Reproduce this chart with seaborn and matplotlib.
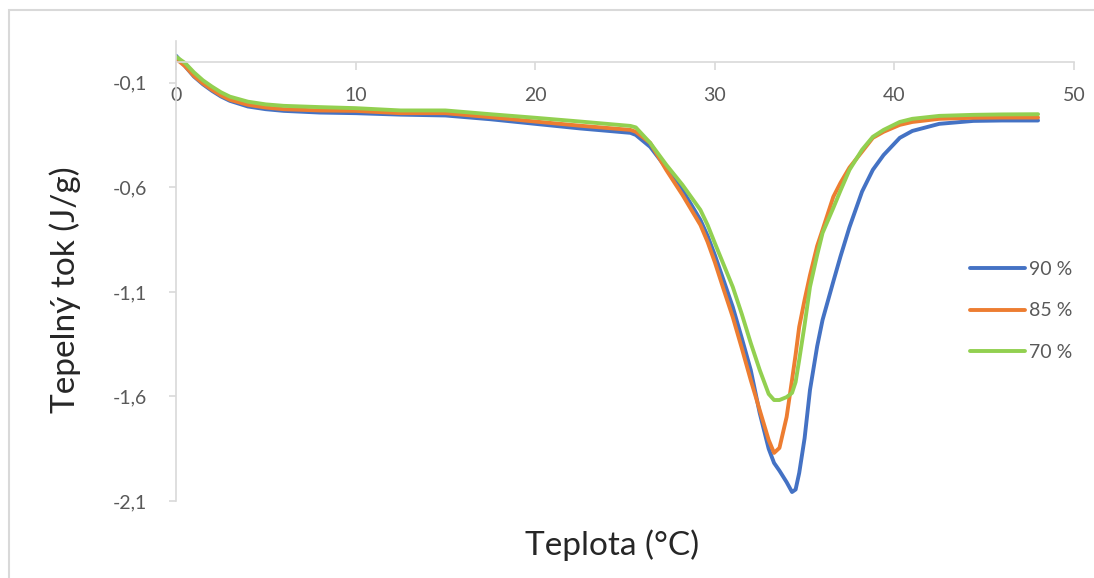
import pandas as pd
import numpy as np
import matplotlib.pyplot as plt
import seaborn as sns
from matplotlib.patches import Rectangle

# -------------------------------
# Data
# -------------------------------

temperature = [0, 0.5, 1, 1.5, 2, 2.5, 3, 4, 5, 6,
               8, 10, 12.5, 15, 17.5, 20, 22.5, 25.3, 25.6, 26.4,
               27.3, 28.2, 29.2, 29.6, 30, 30.5, 31, 31.5, 32, 32.5,
               33.0, 33.3, 33.6, 34.0, 34.3, 34.5, 34.7, 35.0, 35.3, 35.7,
               36, 36.6, 37, 37.5, 38.2, 38.8, 39.4, 40.3, 41, 42.5,
               44.4, 46, 48]

flow_90 = [0.03, -0.02, -0.07, -0.107, -0.138, -0.165, -0.186, -0.213, -0.226, -0.234,
           -0.242, -0.245, -0.252, -0.256, -0.274, -0.296, -0.318, -0.339, -0.349, -0.406,
           -0.507, -0.612, -0.756, -0.832, -0.923, -1.047, -1.172, -1.32, -1.473, -1.679,
           -1.85, -1.918, -1.955, -2.01, -2.057, -2.045, -1.966, -1.80, -1.569, -1.36,
           -1.234, -1.05, -0.93, -0.79, -0.62, -0.516, -0.445, -0.363, -0.33, -0.296,
           -0.282, -0.28, -0.28]

flow_85 = [0.015, -0.02, -0.067, -0.103, -0.133, -0.16, -0.181, -0.205, -0.218, -0.226,
           -0.232, -0.234, -0.245, -0.245, -0.264, -0.285, -0.305, -0.325, -0.334, -0.387,
           -0.517, -0.636, -0.78, -0.861, -0.957, -1.09, -1.22, -1.368, -1.521, -1.665,
           -1.808, -1.87, -1.846, -1.698, -1.521, -1.4, -1.267, -1.138, -1.02, -0.88,
           -0.803, -0.645, -0.578, -0.505, -0.429, -0.363, -0.334, -0.301, -0.287, -0.272,
           -0.267, -0.266, -0.266]

flow_70 = [0.025, -0.005, -0.05, -0.088, -0.118, -0.145, -0.166, -0.19, -0.203, -0.21,
           -0.216, -0.221, -0.232, -0.232, -0.25, -0.267, -0.285, -0.306, -0.313, -0.387,
           -0.492, -0.588, -0.708, -0.78, -0.866, -0.971, -1.076, -1.205, -1.344, -1.473,
           -1.588, -1.617, -1.617, -1.603, -1.583, -1.531, -1.425, -1.258, -1.076, -0.923,
           -0.818, -0.698, -0.615, -0.516, -0.42, -0.358, -0.325, -0.287, -0.272, -0.258,
           -0.253, -0.251, -0.25]

series_labels = ["90 %", "85 %", "70 %"]
series_colors = ["#4472C4", "#ED7D31", "#92D050"]

x_ticks = [0, 10, 20, 30, 40, 50]
y_ticks = [-2.1, -1.6, -1.1, -0.6, -0.1]

df = pd.concat([
    pd.DataFrame({"Teplota": temperature, "tok": flow_90, "vzorek": series_labels[0]}),
    pd.DataFrame({"Teplota": temperature, "tok": flow_85, "vzorek": series_labels[1]}),
    pd.DataFrame({"Teplota": temperature, "tok": flow_70, "vzorek": series_labels[2]}),
])

# -------------------------------
# Plot
# -------------------------------

sns.set_theme(style="white")
plt.rcParams["font.family"] = ["Lato", "DejaVu Sans"]

fig = plt.figure(figsize=(10.94, 5.78), dpi=100)
ax = fig.add_axes([0.1609, 0.1332, 0.8208, 0.7958])

sns.lineplot(data=df, x="Teplota", y="tok", hue="vzorek",
             palette=dict(zip(series_labels, series_colors)),
             estimator=None, sort=False, linewidth=2.8, ax=ax,
             solid_joinstyle="round", solid_capstyle="round")

ax.set_xlim(0, 50)
ax.set_ylim(-2.1, 0.1)
ax.set_xticks(x_ticks)
ax.set_yticks(y_ticks)
ax.set_xticklabels([str(t) for t in x_ticks])
ax.set_yticklabels([f"{t:.1f}".replace(".", ",") for t in y_ticks])
ax.set_xlabel("")
ax.set_ylabel("")

# horizontal axis crosses at 0
ax.spines["bottom"].set_position(("data", 0))
ax.spines["top"].set_visible(False)
ax.spines["right"].set_visible(False)
for s in ["bottom", "left"]:
    ax.spines[s].set_color("#d9d9d9")
    ax.spines[s].set_linewidth(1.2)

ax.tick_params(axis="x", direction="out", length=6, width=1.2, color="#d9d9d9",
               labelsize=14, labelcolor="#595959", pad=12, bottom=True)
ax.tick_params(axis="y", direction="out", length=5, width=1.2, color="#d9d9d9",
               labelsize=14, labelcolor="#595959", pad=16, left=True)

fig.text(0.5594, 0.057, "Teplota (°C)", fontsize=24, ha="center", va="center")
fig.text(0.0594, 0.498, "Tepelný tok (J/g)", fontsize=24, ha="center", va="center",
         rotation=90)

handles, labels = ax.get_legend_handles_labels()
ax.legend(handles, labels, loc="center left", bbox_to_anchor=(0.878, 0.462),
          bbox_transform=fig.transFigure, frameon=False, fontsize=14,
          handlelength=2.8, handletextpad=0.2, labelspacing=1.25, borderpad=0,
          labelcolor="#595959")

# chart area border
fig.patches.append(Rectangle((9 / 1094, -0.1), 1.2, 1.1 - 10 / 578,
                             transform=fig.transFigure, fill=False,
                             edgecolor="#d9d9d9", linewidth=1.5))

fig.savefig("out.png", dpi=100)
